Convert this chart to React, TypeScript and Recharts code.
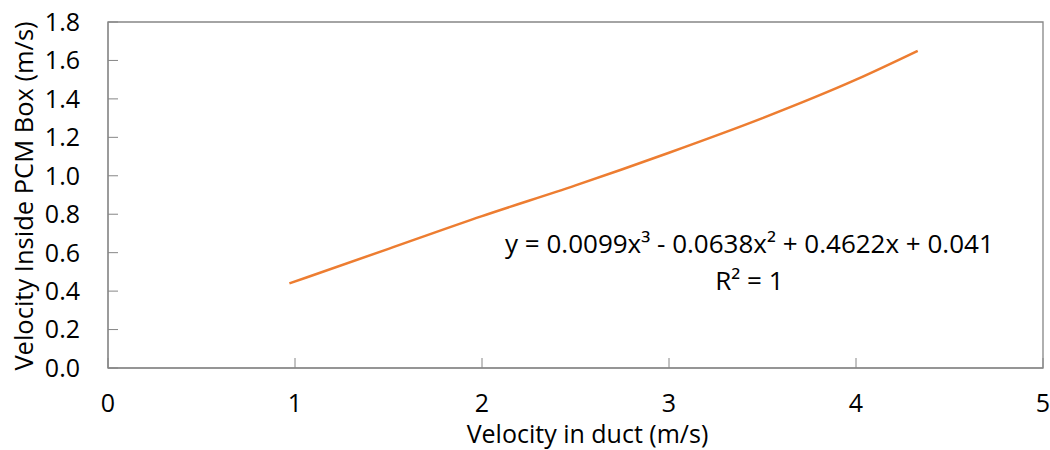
import { LineChart, Line, XAxis, YAxis, ReferenceArea, ReferenceDot, Label } from 'recharts'

const ductVelocity = [0.97, 1.5, 2, 2.5, 3, 3.5, 4, 4.33]
const boxVelocity = [0.44, 0.62, 0.79, 0.95, 1.12, 1.3, 1.5, 1.65]
const xTicks = [0, 1, 2, 3, 4, 5]
const yTicks = [0, 0.2, 0.4, 0.6, 0.8, 1.0, 1.2, 1.4, 1.6, 1.8]
const equation = 'y = 0.0099x³ - 0.0638x² + 0.4622x + 0.041'
const rSquared = 'R² = 1'

const data = ductVelocity.map((x, i) => ({ x, y: boxVelocity[i] }))

const FONT = '"Open Sans", sans-serif'
const AXIS = '#868686'

const EquationText = (props: any) => {
	const { cx, cy } = props
	return (
		<g fontFamily={FONT} fontSize={26} fill="#000" textAnchor="middle">
			<text x={cx} y={cy}>{equation}</text>
			<text x={cx} y={cy + 37}>{rSquared}</text>
		</g>
	)
}

export default function App() {
	return (
		<div style={{ position: 'absolute', left: 0, top: 0, background: '#fff' }}>
			<LineChart width={1050} height={450} data={data} margin={{ top: 22, right: 7, left: 0, bottom: 0 }}>
				<XAxis
					type="number"
					dataKey="x"
					domain={[0, 5]}
					ticks={xTicks}
					height={82}
					tickSize={-10}
					tickMargin={36}
					stroke={AXIS}
					tick={{ fill: '#000', fontSize: 25, fontFamily: FONT }}
				>
					<Label
						value="Velocity in duct (m/s)"
						position="insideBottom"
						offset={7}
						dx={12}
						style={{ fill: '#000', fontSize: 25, fontFamily: FONT }}
					/>
				</XAxis>
				<YAxis
					type="number"
					domain={[0, 1.8]}
					ticks={yTicks}
					width={108}
					tickSize={-10}
					tickMargin={38}
					stroke={AXIS}
					tickFormatter={(v: number) => v.toFixed(1)}
					tick={{ fill: '#000', fontSize: 25, fontFamily: FONT }}
				>
					<Label
						value="Velocity Inside PCM Box (m/s)"
						angle={-90}
						position="insideLeft"
						offset={24}
						dy={1}
						style={{ fill: '#000', fontSize: 25.5, fontFamily: FONT, textAnchor: 'middle' }}
					/>
				</YAxis>
				<ReferenceArea x1={0} x2={5} y1={0} y2={1.8} fill="none" stroke={AXIS} strokeWidth={1.3} />
				<Line
					type="monotone"
					dataKey="y"
					stroke="#ED7D31"
					strokeWidth={2.5}
					dot={false}
					isAnimationActive={false}
				/>
				<ReferenceDot x={3.43} y={0.6} r={0} shape={EquationText} />
			</LineChart>
		</div>
	)
}
